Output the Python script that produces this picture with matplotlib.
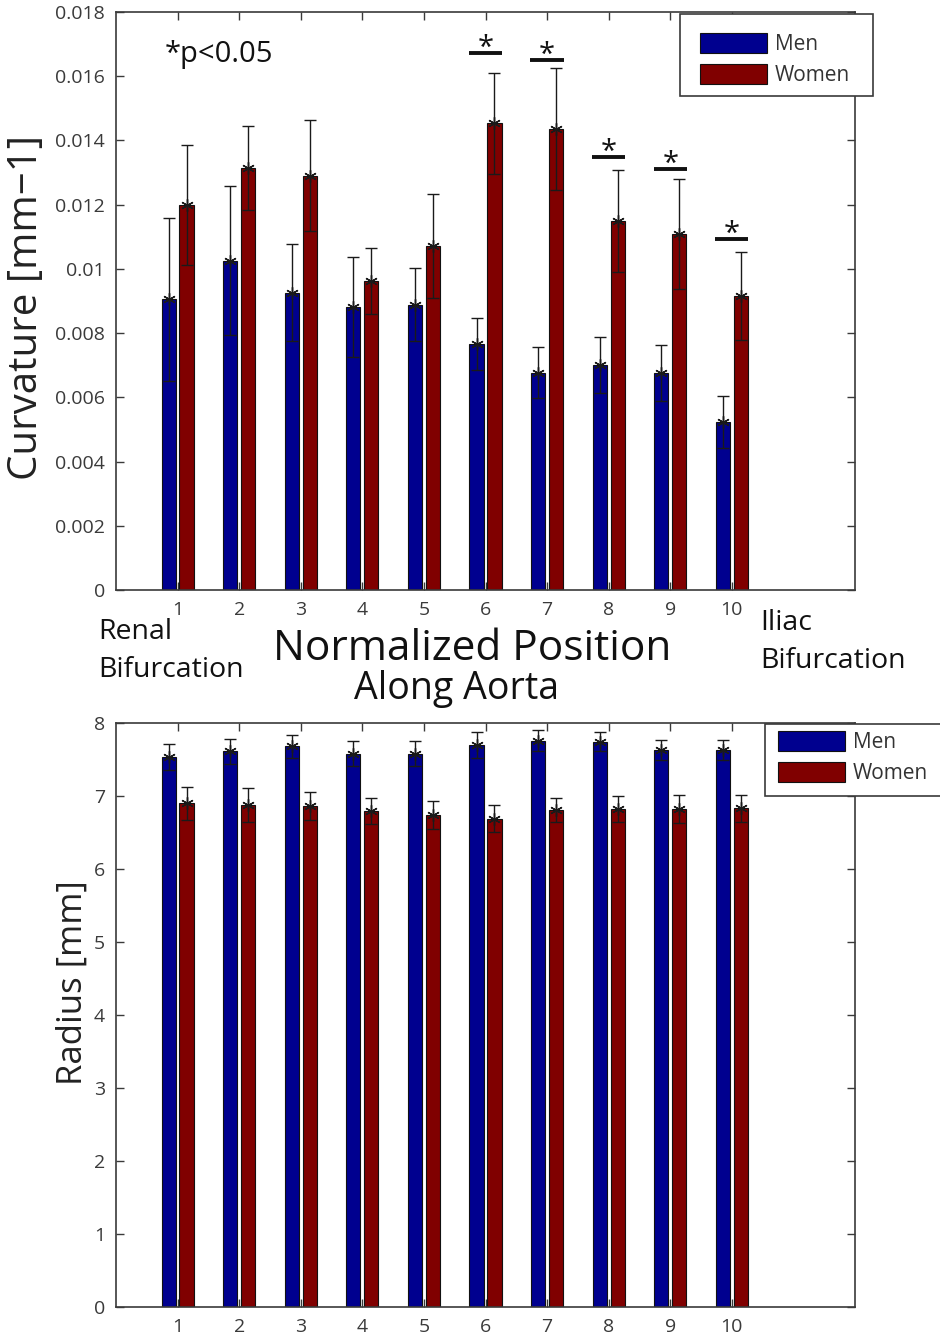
import numpy as np
import matplotlib.pyplot as plt
from matplotlib.patches import Rectangle

plt.rcParams['font.family'] = ['Open Sans', 'DejaVu Sans']

# segment index along the aorta (renal -> iliac)
positions = np.arange(1, 11)

# curvature [1/mm], mean and sd
curv_men = [0.00905, 0.01026, 0.00926, 0.00882, 0.00889, 0.00766, 0.00677, 0.00701, 0.00677, 0.00523]
curv_men_sd = [0.00253, 0.00233, 0.00151, 0.00156, 0.00113, 0.00081, 0.00080, 0.00087, 0.00087, 0.00080]
curv_women = [0.01199, 0.01315, 0.01290, 0.00963, 0.01070, 0.01453, 0.01437, 0.01149, 0.01109, 0.00916]
curv_women_sd = [0.00188, 0.00131, 0.00173, 0.00102, 0.00162, 0.00158, 0.00190, 0.00160, 0.00171, 0.00136]

# significance markers (p<0.05)
sig_groups = [6, 7, 8, 9, 10]
sig_levels = [0.01673, 0.01649, 0.01348, 0.01311, 0.01094]

# radius [mm], mean and sd
rad_men = [7.53, 7.61, 7.68, 7.58, 7.58, 7.70, 7.76, 7.74, 7.63, 7.63]
rad_men_sd = [0.18, 0.17, 0.16, 0.17, 0.17, 0.18, 0.15, 0.13, 0.14, 0.14]
rad_women = [6.90, 6.88, 6.86, 6.79, 6.74, 6.69, 6.81, 6.82, 6.82, 6.83]
rad_women_sd = [0.23, 0.23, 0.19, 0.18, 0.19, 0.18, 0.16, 0.18, 0.19, 0.18]

men_col = '#00008F'
women_col = '#800000'
ax_col = '#3a3a3a'
txt_col = '#222222'
bw = 0.23
off = 0.145

W, H = 940, 1339


def fx(px):
    return px / W


def fy(py):
    return 1 - py / H


def draw_bars(ax, men, men_sd, women, women_sd):
    x = positions
    b1 = ax.bar(x - off, men, bw, color=men_col, edgecolor='#111111', linewidth=0.8, zorder=2, label='Men')
    b2 = ax.bar(x + off, women, bw, color=women_col, edgecolor='#111111', linewidth=0.8, zorder=2, label='Women')
    for xs, m, s in [(x - off, men, men_sd), (x + off, women, women_sd)]:
        ax.errorbar(xs, m, yerr=s, fmt='none', ecolor='#1a1a1a', elinewidth=1.0,
                    capsize=4.5, capthick=1.0, zorder=3)
        ax.plot(xs, m, ls='none', marker=(6, 2, 0), ms=9, mec='#1a1a1a', mew=1.0, zorder=4)
    ax.set_xlim(0, 12)
    ax.set_xticks(positions)
    ax.tick_params(direction='in', length=6, width=1, colors=ax_col, labelsize=14,
                   top=True, right=True, labeltop=False, labelright=False, pad=8)
    for sp in ax.spines.values():
        sp.set_color(ax_col)
        sp.set_linewidth(1.2)
    return b1, b2


def boxed_legend(ax, handles, box, anchor):
    # frame drawn by hand so the padding can be uneven
    x0, y0, x1, y1 = box
    ax.add_patch(Rectangle((fx(x0), fy(y1)), fx(x1) - fx(x0), fy(y0) - fy(y1),
                           transform=ax.figure.transFigure, facecolor='white',
                           edgecolor=ax_col, linewidth=1.2, clip_on=False, zorder=6))
    leg = ax.legend(handles=handles, loc='upper left', bbox_to_anchor=(fx(anchor[0]), fy(anchor[1])),
                    bbox_transform=ax.figure.transFigure, fontsize=15, frameon=False,
                    handlelength=3.2, handleheight=1.1, borderpad=0, borderaxespad=0,
                    labelspacing=0.42, handletextpad=0.4)
    leg.set_zorder(10)
    for t in leg.get_texts():
        t.set_color('#333333')
    return leg


fig = plt.figure(figsize=(9.4, 13.39), dpi=100)

# curvature panel
ax1 = fig.add_axes([fx(116), fy(590), fx(855) - fx(116), fy(12) - fy(590)])
h1 = draw_bars(ax1, curv_men, curv_men_sd, curv_women, curv_women_sd)
ax1.set_ylim(0, 0.018)
ax1.set_yticks(np.arange(0, 0.0181, 0.002))
ax1.set_yticklabels(['0'] + ['%g' % v for v in np.arange(0.002, 0.0181, 0.002)])
ax1.set_ylabel('Curvature [mm\u22121]', fontsize=29, color=txt_col)
ax1.yaxis.set_label_coords(-0.094, 0.488)

for g, lev in zip(sig_groups, sig_levels):
    ax1.plot([g - 0.27, g + 0.27], [lev, lev], color='#111111', lw=2.8, solid_capstyle='butt', zorder=4)
    ax1.text(g, lev - 0.00009, '*', ha='center', va='baseline', fontsize=21, color='#111111')

ax1.text(0.066, 0.926, '*p<0.05', transform=ax1.transAxes, fontsize=21, color='#111111',
         ha='left', va='center')

boxed_legend(ax1, h1, (680, 14, 873, 96), (700, 33))

# labels between the panels
fig.text(fx(98), fy(632), 'Renal', fontsize=20.5, color='#111111', ha='left', va='center')
fig.text(fx(98), fy(670), 'Bifurcation', fontsize=20.5, color='#111111', ha='left', va='center')
fig.text(fx(760), fy(623), 'Iliac', fontsize=20.5, color='#111111', ha='left', va='center')
fig.text(fx(760), fy(661), 'Bifurcation', fontsize=20.5, color='#111111', ha='left', va='center')
fig.text(fx(472), fy(649), 'Normalized Position', fontsize=30.5, color='#111111', ha='center', va='center')
fig.text(fx(457), fy(689), 'Along Aorta', fontsize=27, color='#111111', ha='center', va='center')

# radius panel
ax2 = fig.add_axes([fx(116), fy(1307), fx(855) - fx(116), fy(723) - fy(1307)])
h2 = draw_bars(ax2, rad_men, rad_men_sd, rad_women, rad_women_sd)
ax2.set_ylim(0, 8)
ax2.set_yticks(range(0, 9))
ax2.set_ylabel('Radius [mm]', fontsize=25, color=txt_col)
ax2.yaxis.set_label_coords(-0.036, 0.555)

boxed_legend(ax2, h2, (765, 724, 945, 796), (778, 731))

fig.savefig('out.png', dpi=100)
